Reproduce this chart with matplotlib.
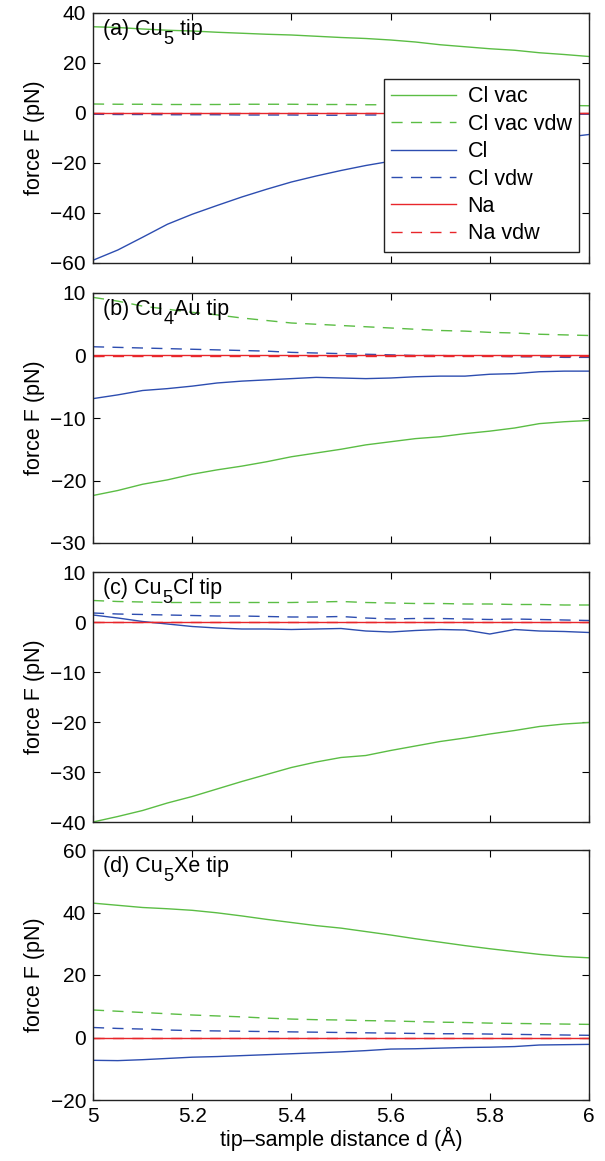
import matplotlib
matplotlib.use("Agg")
import matplotlib.pyplot as plt
import numpy as np

plt.rcParams["font.family"] = ["Liberation Sans", "DejaVu Sans"]

# tip-sample distance (Angstrom)
d = [5.00, 5.05, 5.10, 5.15, 5.20, 5.25, 5.30, 5.35, 5.40, 5.45, 5.50,
     5.55, 5.60, 5.65, 5.70, 5.75, 5.80, 5.85, 5.90, 5.95, 6.00]

# (a) Cu5 tip
a_clvac = [34.5, 34.2, 33.6, 33.1, 32.8, 32.3, 31.9, 31.5, 31.2, 30.7, 30.2,
           29.8, 29.2, 28.4, 27.3, 26.5, 25.7, 25.1, 24.1, 23.4, 22.6]
a_clvac_vdw = [3.6, 3.5, 3.5, 3.4, 3.4, 3.4, 3.5, 3.5, 3.5, 3.4, 3.4,
               3.3, 3.3, 3.3, 3.2, 3.2, 3.1, 3.1, 3.0, 3.0, 2.9]
a_cl = [-58.9, -54.8, -49.7, -44.5, -40.5, -37.0, -33.6, -30.5, -27.6, -25.2, -23.0,
        -21.0, -19.3, -17.7, -16.2, -14.8, -13.5, -12.3, -11.0, -9.8, -8.6]
a_cl_vdw = [-0.5, -0.6, -0.6, -0.7, -0.7, -0.7, -0.8, -0.8, -0.8, -0.9, -0.9,
            -0.8, -0.8, -0.8, -0.7, -0.7, -0.6, -0.6, -0.6, -0.5, -0.5]
a_na = [0.1] * 21
a_na_vdw = [-0.1] * 21

# (b) Cu4Au tip
b_clvac = [-22.4, -21.6, -20.6, -19.9, -19.0, -18.3, -17.7, -17.0, -16.2, -15.6, -15.0,
           -14.3, -13.8, -13.3, -13.0, -12.5, -12.1, -11.6, -10.9, -10.6, -10.4]
b_clvac_vdw = [9.3, 8.7, 7.9, 7.4, 6.9, 6.5, 6.0, 5.6, 5.2, 5.0, 4.8,
               4.6, 4.4, 4.2, 4.0, 3.9, 3.7, 3.6, 3.4, 3.3, 3.2]
b_cl = [-6.9, -6.3, -5.6, -5.3, -4.9, -4.4, -4.1, -3.9, -3.7, -3.5, -3.6,
        -3.7, -3.6, -3.4, -3.3, -3.3, -3.0, -2.9, -2.6, -2.5, -2.5]
b_cl_vdw = [1.4, 1.3, 1.2, 1.1, 1.0, 0.9, 0.8, 0.7, 0.5, 0.4, 0.3,
            0.2, 0.1, 0.0, 0.0, -0.1, -0.1, -0.2, -0.2, -0.3, -0.3]
b_na = [0.05] * 21
b_na_vdw = [-0.05] * 21

# (c) Cu5Cl tip
c_clvac = [-40.0, -38.9, -37.7, -36.2, -34.9, -33.4, -31.9, -30.5, -29.1, -28.0, -27.1,
           -26.7, -25.7, -24.8, -23.9, -23.2, -22.4, -21.7, -20.9, -20.4, -20.1]
c_clvac_vdw = [4.3, 4.1, 4.0, 3.9, 3.9, 3.9, 3.9, 3.9, 3.9, 4.0, 4.1,
               3.9, 3.8, 3.7, 3.7, 3.6, 3.6, 3.5, 3.5, 3.4, 3.4]
c_cl = [1.4, 0.8, 0.1, -0.4, -0.9, -1.2, -1.4, -1.4, -1.5, -1.4, -1.3,
        -1.8, -2.0, -1.7, -1.5, -1.6, -2.4, -1.5, -1.8, -1.9, -2.1]
c_cl_vdw = [1.8, 1.6, 1.5, 1.4, 1.3, 1.2, 1.2, 1.1, 1.0, 1.0, 1.1,
            0.8, 0.6, 0.7, 0.7, 0.6, 0.5, 0.6, 0.5, 0.4, 0.3]
c_na = [0.05] * 21
c_na_vdw = [0.0] * 21

# (d) Cu5Xe tip
d_clvac = [43.0, 42.3, 41.6, 41.2, 40.7, 39.9, 38.9, 37.8, 36.8, 35.8, 35.0,
           33.9, 32.8, 31.6, 30.5, 29.4, 28.4, 27.5, 26.6, 25.9, 25.5]
d_clvac_vdw = [8.8, 8.4, 8.0, 7.6, 7.2, 6.9, 6.6, 6.2, 5.9, 5.7, 5.6,
               5.4, 5.3, 5.1, 4.9, 4.8, 4.6, 4.5, 4.4, 4.3, 4.2]
d_cl = [-7.3, -7.4, -7.1, -6.7, -6.3, -6.1, -5.8, -5.5, -5.2, -4.9, -4.6,
        -4.2, -3.7, -3.6, -3.4, -3.2, -3.1, -2.9, -2.4, -2.3, -2.2]
d_cl_vdw = [3.2, 2.9, 2.7, 2.4, 2.2, 2.1, 2.0, 1.9, 1.8, 1.7, 1.6,
            1.5, 1.4, 1.3, 1.2, 1.2, 1.1, 1.0, 0.9, 0.8, 0.7]
d_na = [0.0] * 21
d_na_vdw = [0.0] * 21

# panel captions split as (before subscript, subscript, after subscript)
titles = [("(a) Cu", "5", " tip"), ("(b) Cu", "4", "Au tip"),
          ("(c) Cu", "5", "Cl tip"), ("(d) Cu", "5", "Xe tip")]
ylims = [(-60, 40), (-30, 10), (-40, 10), (-20, 60)]
ysteps = [20, 10, 10, 20]
panels = [
    (a_clvac, a_clvac_vdw, a_cl, a_cl_vdw, a_na, a_na_vdw),
    (b_clvac, b_clvac_vdw, b_cl, b_cl_vdw, b_na, b_na_vdw),
    (c_clvac, c_clvac_vdw, c_cl, c_cl_vdw, c_na, c_na_vdw),
    (d_clvac, d_clvac_vdw, d_cl, d_cl_vdw, d_na, d_na_vdw),
]
labels = ["Cl vac", "Cl vac vdw", "Cl", "Cl vdw", "Na", "Na vdw"]

green = "#5bbd44"
blue = "#2d4db0"
red = "#e8262b"
colors = [green, green, blue, blue, red, red]
dash = (0, (8, 6))
styles = ["-", dash, "-", dash, "-", dash]
# draw order: dashed first, solid red last on top
order = [1, 3, 5, 0, 2, 4]

fs = 15.5
fig = plt.figure(figsize=(6.05, 11.61), dpi=100)
left, width, height = 93 / 605, 496 / 605, 250 / 1161
bottoms = [1 - 263 / 1161, 1 - 543 / 1161, 1 - 822 / 1161, 1 - 1100 / 1161]

for i, series in enumerate(panels):
    ax = fig.add_axes([left, bottoms[i], width, height])
    handles = {}
    for k in order:
        (h,) = ax.plot(d, series[k], color=colors[k], linestyle=styles[k],
                       linewidth=1.0, label=labels[k])
        handles[k] = h
    ax.set_xlim(5, 6)
    ax.set_ylim(*ylims[i])
    ax.set_yticks(np.arange(ylims[i][0], ylims[i][1] + 1, ysteps[i]))
    ax.set_xticks([5, 5.2, 5.4, 5.6, 5.8, 6])
    ax.tick_params(direction="in", top=True, right=True, length=5,
                   width=0.8, labelsize=15, pad=5)
    for sp in ax.spines.values():
        sp.set_linewidth(1.0)
        sp.set_color("#222222")
    ax.set_ylabel("force F (pN)", fontsize=fs, labelpad=4)

    # caption with a dropped subscript
    pre, sub, post = titles[i]
    t1 = ax.text(0.02, 0.975, pre, transform=ax.transAxes, fontsize=fs,
                 va="top", ha="left")
    t2 = ax.annotate(sub, xy=(1, 0), xycoords=t1, xytext=(0.5, -5.5),
                     textcoords="offset points", fontsize=fs * 0.85,
                     va="bottom", ha="left")
    ax.annotate(post, xy=(1, 0), xycoords=(t2, t1), xytext=(0.3, 0),
                textcoords="offset points", fontsize=fs,
                va="bottom", ha="left")

    if i < 3:
        ax.set_xticklabels([])
    else:
        ax.set_xticklabels(["5", "5.2", "5.4", "5.6", "5.8", "6"])
        ax.set_xlabel("tip\u2013sample distance d (\u00c5)", fontsize=fs, labelpad=1)
    if i == 0:
        leg = ax.legend([handles[k] for k in range(6)], labels,
                        loc="lower right", bbox_to_anchor=(0.98, 0.044),
                        fontsize=fs, fancybox=False, framealpha=1,
                        edgecolor="#222222", handlelength=3.0,
                        labelspacing=0.3, borderpad=0.35, handletextpad=0.55,
                        borderaxespad=0)
        leg.get_frame().set_linewidth(1.0)

fig.savefig("out.png", dpi=100)
